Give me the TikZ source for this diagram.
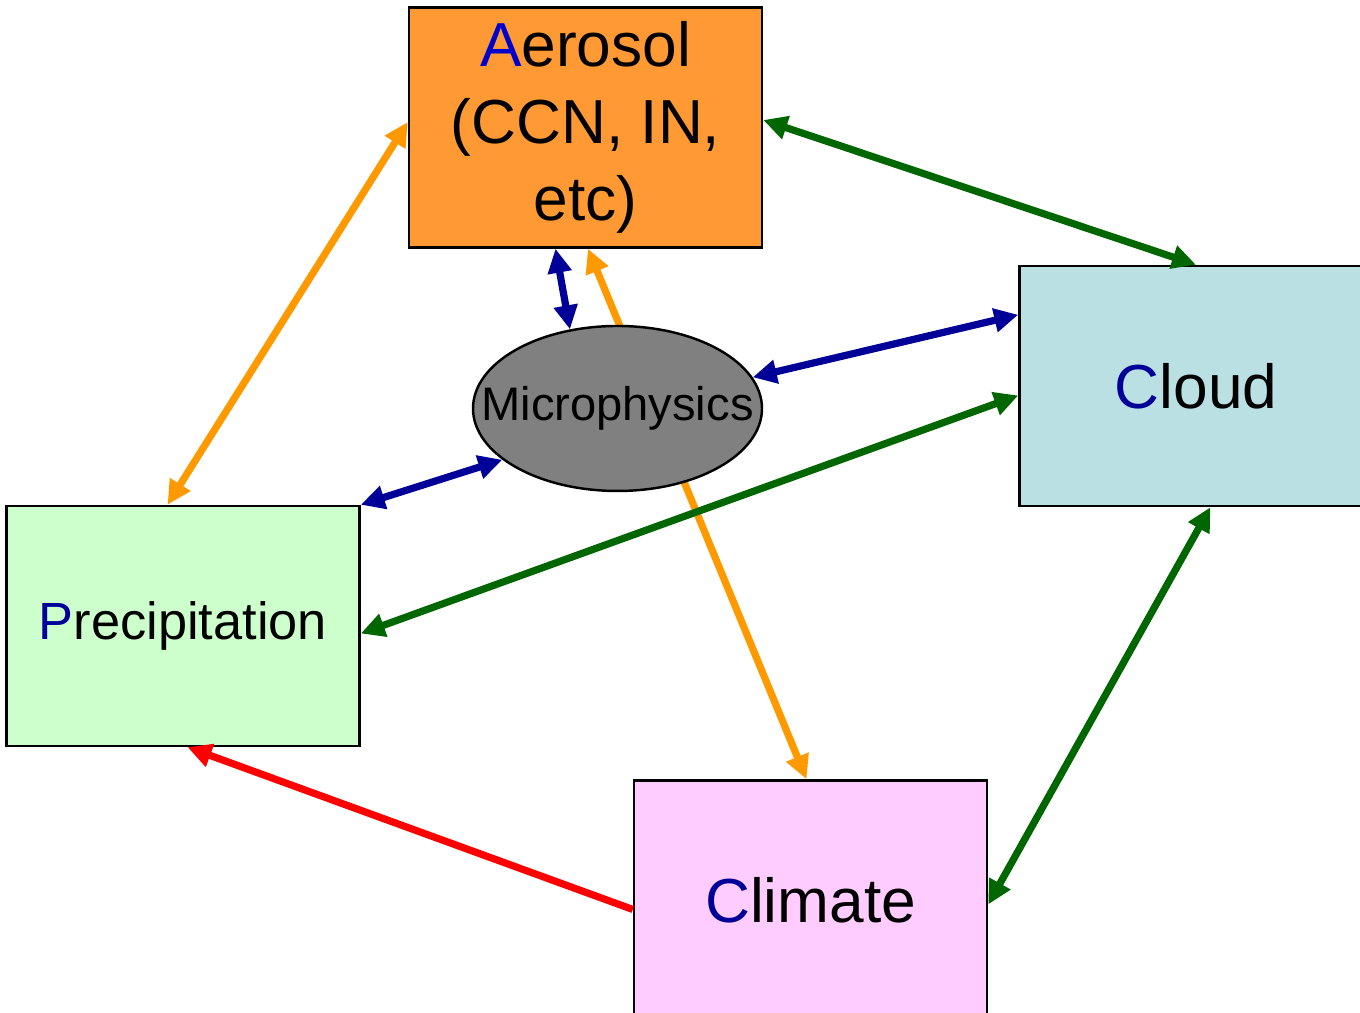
\documentclass[tikz,border=0pt]{standalone}
\usepackage{fontspec}
\setmainfont{Liberation Sans}
\usepackage{tikz}
\usetikzlibrary{positioning,shapes.geometric,arrows.meta}
\usepackage{xcolor}
\definecolor{aerosolfill}{HTML}{FF9933}
\definecolor{cloudfill}{HTML}{BBE0E3}
\definecolor{precipfill}{HTML}{CCFFCC}
\definecolor{climatefill}{HTML}{FFCCFF}
\definecolor{initial}{HTML}{000099}
\definecolor{initialA}{HTML}{0000CC}
\definecolor{linkorange}{HTML}{FF9900}
\definecolor{linkgreen}{HTML}{006600}
\definecolor{linkblue}{HTML}{000099}

\begin{document}
\begin{tikzpicture}[
    % 设定样式
    bigbox/.style={rectangle, draw=black, line width=0.7pt, minimum width=3.53cm, minimum height=2.4cm, inner sep=0pt, align=center, font=\fontsize{17.7}{21.8}\selectfont},
    microbox/.style={ellipse, draw=black, fill=gray, line width=0.7pt, minimum width=2.89cm, minimum height=1.65cm, inner sep=0pt},
    link/.style={line width=0.72mm, {Triangle[length=2.4mm,width=2.3mm]}-{Triangle[length=2.4mm,width=2.3mm]}},
    oneway/.style={line width=0.72mm, -{Triangle[length=2.4mm,width=2.3mm]}},
    ]
    \useasboundingbox (0,0) rectangle (13.6,-10.12);
    \clip (0,0) rectangle (13.6,-10.12);

    %定义节点:Nodes
    \node[bigbox, fill=aerosolfill] (aerosol) at (5.855,-1.275) {\textcolor{initialA}{A}erosol\\(CCN, IN,\\etc)};
    \node[bigbox, fill=cloudfill]   (cloud)   [below right=0.16cm and 2.55cm of aerosol] {\textcolor{initial}{C}loud};
    \node[bigbox, fill=precipfill, font=\fontsize{14.9}{18}\selectfont] (precip) [below left=2.56cm and 0.47cm of aerosol] {\textcolor{initial}{P}recipitation};
    \node[bigbox, fill=climatefill] (climate) [below left=2.72cm and 0.30cm of cloud] {\textcolor{initial}{C}limate};

    % behind the ellipse
    \draw[link, linkorange] ([xshift=0.025cm]aerosol.south) -- ([xshift=-0.04cm]climate.north);

    \node[microbox] (micro) [below=0.76cm of aerosol, xshift=0.32cm] {};
    \node[font=\fontsize{13.4}{16}\selectfont] (microtext) at (micro) {Microphysics};

    %Lines
    \draw[link, linkorange] ([yshift=0.055cm]aerosol.west) -- ([xshift=-0.155cm]precip.north);
    \draw[link, linkgreen] ([yshift=0.075cm]aerosol.east) -- (cloud.north);
    \draw[link, linkblue] ([xshift=-0.30cm]aerosol.south) -- (micro.121);
    \draw[link, linkblue] (micro.13) -- ([yshift=-0.5cm]cloud.north west);
    \draw[link, linkblue] (micro.204) -- (precip.north east);
    \draw[link, linkgreen] ([yshift=-0.095cm]cloud.west) -- ([yshift=-0.075cm]precip.east);
    \draw[link, linkgreen] ([xshift=0.145cm]cloud.south) -- ([yshift=-0.04cm]climate.east);
    \draw[oneway, red] ([yshift=-0.09cm]climate.west) -- ([xshift=0.045cm]precip.south);

\end{tikzpicture}
\end{document}
